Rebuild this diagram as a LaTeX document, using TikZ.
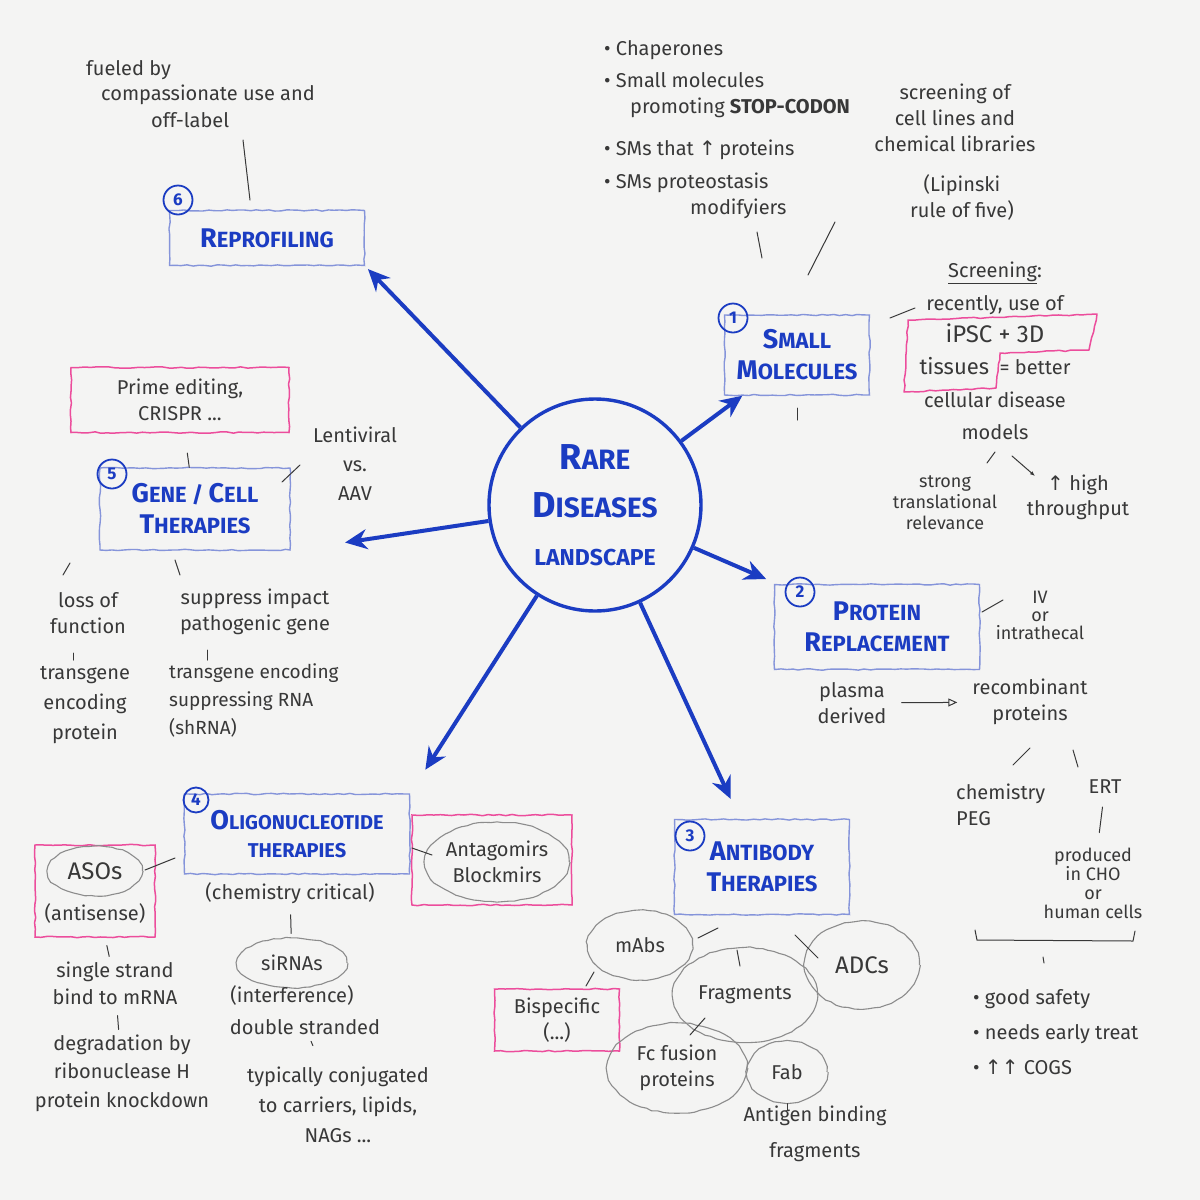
\documentclass[tikz,border=0pt]{standalone}
\usepackage{fontspec}
\setmainfont{Fira Sans}
\newfontfamily\symf{DejaVu Sans}
\usetikzlibrary{arrows.meta,shapes.geometric,decorations.pathmorphing}
\definecolor{inkblue}{HTML}{1B3CC2}
\definecolor{boxblue}{HTML}{8594DA}
\definecolor{pinkc}{HTML}{EC4D9C}
\definecolor{pencil}{HTML}{383838}
\definecolor{ovalc}{HTML}{8C8C8C}
\definecolor{paper}{HTML}{F4F4F3}
\newcommand\titfont{\fontsize{22}{31}\selectfont\bfseries}
\newcommand\notefont{\fontsize{20}{26}\selectfont}
\newcommand\tit[2]{{\fontsize{27}{31}\selectfont #1}#2}
\newcommand\ctit[2]{{\fontsize{36}{48}\selectfont #1}#2}
\newcommand\uparr{{\symf ↑}}
\begin{document}
\begin{tikzpicture}[x=1pt,y=-1pt,
  sketch/.style={decorate,decoration={random steps,segment length=6pt,amplitude=0.7pt}},
  box/.style={draw=boxblue,line width=1.4pt,sketch,text=inkblue,font=\titfont,align=center,inner sep=2pt},
  num/.style={circle,draw=inkblue,line width=1.8pt,text=inkblue,font=\fontsize{17}{17}\selectfont\bfseries,inner sep=0pt,minimum size=29pt},
  note/.style={text=pencil,font=\notefont,align=center,inner sep=1pt},
  pinkbox/.style={draw=pinkc,line width=1.5pt,sketch},
  oval/.style={ellipse,draw=ovalc,line width=1.1pt,sketch,text=pencil,font=\notefont,align=center,inner sep=0pt},
  tick/.style={draw=pencil,line width=1pt,line cap=round},
  bigarrow/.style={draw=inkblue,line width=4pt,-{Stealth[length=22pt,width=20pt]}}]
\fill[paper] (0,0) rectangle (1200,1200);
\useasboundingbox (0,0) rectangle (1200,1200);

% ---- hub
\node[circle,draw=inkblue,line width=3.4pt,minimum size=212pt,text=inkblue,
      font=\fontsize{28}{48}\selectfont\bfseries,align=center,inner sep=0pt] (hub) at (595,505)
  {\ctit{R}{ARE}\\\ctit{D}{ISEASES}\\{\fontsize{23}{48}\selectfont LANDSCAPE}};

% ---- 6 Reprofiling
\node[box,minimum width=195pt,minimum height=55pt] (rep) at (267,238) {\tit{R}{EPROFILING}};
\node[num] (n6) at (178,200) {6};
\node[note,anchor=west] (fu1) at (85,70) {fueled by};
\node[note,anchor=west] (fu2) at (100,95) {compassionate use and};
\node[note,anchor=west] (fu3) at (150,120) {off-label};
\draw[tick] ([shift={(93,20)}]fu3.west) -- ([shift={(-17,-38)}]rep.center);

% ---- 1 Small molecules
\node[box,minimum width=145pt,minimum height=80pt] (sm) at (797,355) {\tit{S}{MALL}\\\tit{M}{OLECULES}};
\node[num] (n1) at (733,318) {1};
\node[note,anchor=west] (b1) at (603,50) {• Chaperones};
\node[note,anchor=west,align=left] (b2) at (603,95) {• Small molecules\\\hspace*{26pt}promoting \textbf{STOP-CODON}};
\node[note,anchor=west] (b3) at (603,150) {• SMs that \uparr\,proteins};
\node[note,anchor=west,align=left] (b4) at (603,196) {• SMs proteostasis\\\hspace*{86pt}modifyiers};
\node[note] (scr) at (955,118) {screening of\\cell lines and\\chemical libraries};
\node[note] (lip) at (962,197) {(Lipinski\\rule of five)};
\draw[tick] ([shift={(154,36)}]b4.west) -- ([shift={(-35,-97)}]sm.center);
\draw[tick] ([shift={(-127,25)}]lip.center) -- ([shift={(11,-80)}]sm.center);
\draw[tick] ([shift={(0,53)}]sm.center) -- ([shift={(0,65)}]sm.center);

\node[note,font=\fontsize{20}{32.4}\selectfont] (scrd) at (995,351)
  {\underline{Screening}:\\recently, use of\\{\fontsize{24}{24}\selectfont iPSC + 3D}\\{\fontsize{22}{22}\selectfont tissues}\ \ = better\\cellular disease\\models};
\draw[tick] ([shift={(93,-37)}]sm.center) -- ([shift={(-80,-43)}]scrd.center);
\draw[pinkc,line width=1.5pt,sketch,line join=round] (908,320) -- (1097,314) -- (1089,350) -- (1000,353) -- (996,388) -- (904,392) -- cycle;
\node[note,font=\fontsize{18}{21}\selectfont] (str) at (945,503) {strong\\translational\\relevance};
\node[note,font=\fontsize{20}{25}\selectfont] (hi) at (1078,497) {\uparr\ high\\throughput};
\draw[tick] ([shift={(0,101)}]scrd.center) -- ([shift={(42,-40)}]str.center);
\draw[tick,-{Latex[length=5pt,width=4pt]}] ([shift={(17,105)}]scrd.center) -- ([shift={(-43,-21)}]hi.center);

% ---- 2 Protein replacement
\node[box,minimum width=205pt,minimum height=85pt] (pr) at (877,627) {\tit{P}{ROTEIN}\\\tit{R}{EPLACEMENT}};
\node[num] (n2) at (800,592) {2};
\node[note,font=\fontsize{18}{18}\selectfont] (iv) at (1040,615) {IV\\or\\intrathecal};
\draw[tick] ([shift={(105,-15)}]pr.center) -- ([shift={(-37,-15)}]iv.center);
\node[note] (pla) at (852,703) {plasma\\derived};
\node[note] (rcp) at (1030,702) {recombinant\\proteins};
\draw[tick,shorten <=14pt,shorten >=14pt,-{Triangle[open,length=9pt,width=8pt]}] (pla) -- (rcp);
\node[note,align=left,anchor=west] (chem) at (955,805) {chemistry\\PEG};
\node[note] (ert) at (1105,787) {ERT};
\draw[tick] ([shift={(0,46)}]rcp.center) -- ([shift={(58,-40)}]chem.west);
\draw[tick] ([shift={(43,48)}]rcp.center) -- ([shift={(-27,-20)}]ert.center);
\node[note,font=\fontsize{18}{19}\selectfont] (prod) at (1093,883) {produced\\in CHO\\or\\human cells};
\draw[tick,shorten <=12pt,shorten >=14pt] (ert) -- (prod);
\node[note,align=left,anchor=west,font=\fontsize{20}{35}\selectfont] (bul) at (972,1032) {• good safety\\• needs early treat\\• \uparr\uparr\ COGS};
\draw[tick] ([shift={(-118,47)}]prod.center) -- ([shift={(-116,57)}]prod.center) -- ([shift={(40,58)}]prod.center) -- ([shift={(42,48)}]prod.center);
\draw[tick] ([shift={(71,-75)}]bul.west) -- ([shift={(72,-69)}]bul.west);

% ---- 3 Antibody therapies
\node[box,minimum width=175pt,minimum height=95pt] (ab) at (762,867) {\tit{A}{NTIBODY}\\\tit{T}{HERAPIES}};
\node[num] (n3) at (690,836) {3};
\node[oval,minimum width=105pt,minimum height=70pt] (mabs) at (640,945) {mAbs};
\node[oval,minimum width=145pt,minimum height=95pt] (frag) at (745,995) {Fragments};
\node[oval,minimum width=115pt,minimum height=88pt,font=\fontsize{24}{24}\selectfont] (adc) at (862,965) {ADCs};
\node[pinkbox,note,minimum width=125pt,minimum height=62pt] (bis) at (557,1020) {Bispecific\\(...)};
\node[oval,minimum width=140pt,minimum height=90pt] (fc) at (677,1068) {Fc fusion\\proteins};
\node[oval,minimum width=80pt,minimum height=62pt] (fab) at (787,1072) {Fab};
\node[note,font=\fontsize{20}{36}\selectfont] (ant) at (815,1134) {Antigen binding\\fragments};
\draw[tick] ([shift={(58,-7)}]mabs.center) -- ([shift={(-44,61)}]ab.center);
\draw[tick] ([shift={(-25,83)}]ab.center) -- ([shift={(-5,-29)}]frag.center);
\draw[tick] ([shift={(33,68)}]ab.center) -- ([shift={(-44,-7)}]adc.center);
\draw[tick] ([shift={(-46,27)}]mabs.center) -- ([shift={(29,-34)}]bis.center);
\draw[tick] ([shift={(-40,23)}]frag.center) -- ([shift={(13,-33)}]fc.center);
\draw[tick] (fab.south) -- ([shift={(0,6)}]fab.south);

% ---- 4 Oligonucleotide therapies
\node[box,font=\fontsize{20}{28}\selectfont\bfseries,minimum width=225pt,minimum height=80pt] (oli) at (297,834) {\tit{O}{LIGONUCLEOTIDE}\\THERAPIES};
\node[num,minimum size=25pt] (n4) at (196,800) {4};
\node[note] (crit) at (290,893) {(chemistry critical)};
\node[oval,minimum width=110pt,minimum height=50pt] (sirna) at (292,963) {siRNAs};
\node[note] (intf) at (292,995) {(interference)};
\node[note] (dbl) at (305,1027) {double stranded};
\node[note,font=\fontsize{20}{30}\selectfont] (typ) at (338,1105) {typically conjugated\\to carriers, lipids,\\NAGs ...};
\draw[tick,shorten <=10pt,shorten >=4pt] (crit) -- (sirna);
\draw[tick,shorten <=6pt,shorten >=22pt] (dbl) -- (typ);
\node[pinkbox,minimum width=120pt,minimum height=92pt] (asobox) at (95,891) {};
\node[oval,font=\fontsize{24}{24}\selectfont,minimum width=95pt,minimum height=50pt] (aso) at (95,871) {ASOs};
\node[note] (anti) at (95,913) {(antisense)};
\draw[tick] ([shift={(50,-21)}]asobox.center) -- ([shift={(-122,24)}]oli.center);
\node[note,font=\fontsize{20}{27}\selectfont] (ss) at (115,983) {single strand\\bind to mRNA};
\node[note,font=\fontsize{20}{28.5}\selectfont] (deg) at (122,1073) {degradation by\\ribonuclease H\\protein knockdown};
\draw[tick,shorten <=8pt,shorten >=4pt] (asobox) -- (ss);
\draw[tick,shorten <=10pt,shorten >=4pt] (ss) -- (deg);
\node[pinkbox,minimum width=160pt,minimum height=90pt] (antbox) at (492,860) {};
\node[oval,minimum width=140pt,minimum height=80pt] (anta) at (497,862) {Antagomirs\\Blockmirs};
\draw[tick] ([shift={(115,14)}]oli.center) -- ([shift={(-65,-7)}]anta.center);

% ---- 5 Gene / cell therapies
\node[box,minimum width=190pt,minimum height=82pt] (gene) at (195,509) {\tit{G}{ENE} / \tit{C}{ELL}\\\tit{T}{HERAPIES}};
\node[num] (n5) at (112,474) {5};
\node[pinkbox,note,minimum width=218pt,minimum height=65pt] (prime) at (180,400) {Prime editing,\\CRISPR ...};
\draw[tick,shorten <=20pt] (prime) -- (gene);
\node[note,font=\fontsize{20}{29}\selectfont] (lenti) at (355,464) {Lentiviral\\vs.\\AAV};
\draw[tick] ([shift={(87,-27)}]gene.center) -- ([shift={(-55,1)}]lenti.center);
\node[note] (lof1) at (88,613) {loss of\\function};
\node[note,font=\fontsize{20}{30}\selectfont] (lof2) at (85,705) {transgene\\encoding\\protein};
\node[note] (sup1) at (255,612) {suppress impact\\pathogenic gene};
\node[note,align=left,anchor=west,font=\fontsize{19}{28}\selectfont] (sup2) at (168,700) {transgene encoding\\suppressing RNA\\(shRNA)};
\draw[tick] ([shift={(-125,54)}]gene.center) -- ([shift={(-25,-38)}]lof1.center);
\draw[tick] ([shift={(-20,51)}]gene.center) -- ([shift={(-75,-37)}]sup1.center);
\draw[tick] ([shift={(-15,40)}]lof1.center) -- ([shift={(-12,-45)}]lof2.center);
\draw[tick] ([shift={(-48,38)}]sup1.center) -- ([shift={(39,-40)}]sup2.west);

% ---- main arrows
\draw[bigarrow] (hub) -- (sm);
\draw[bigarrow,shorten >=12pt] (hub) -- (pr);
\draw[bigarrow,shorten >=22pt] (hub) -- (ab);
\draw[bigarrow,shorten >=28pt] (hub) -- (oli.north east);
\draw[bigarrow,shorten >=55pt] (hub) -- (gene.south east);
\draw[bigarrow,shorten >=4pt] (hub) -- (rep.south east);
\end{tikzpicture}
\end{document}
